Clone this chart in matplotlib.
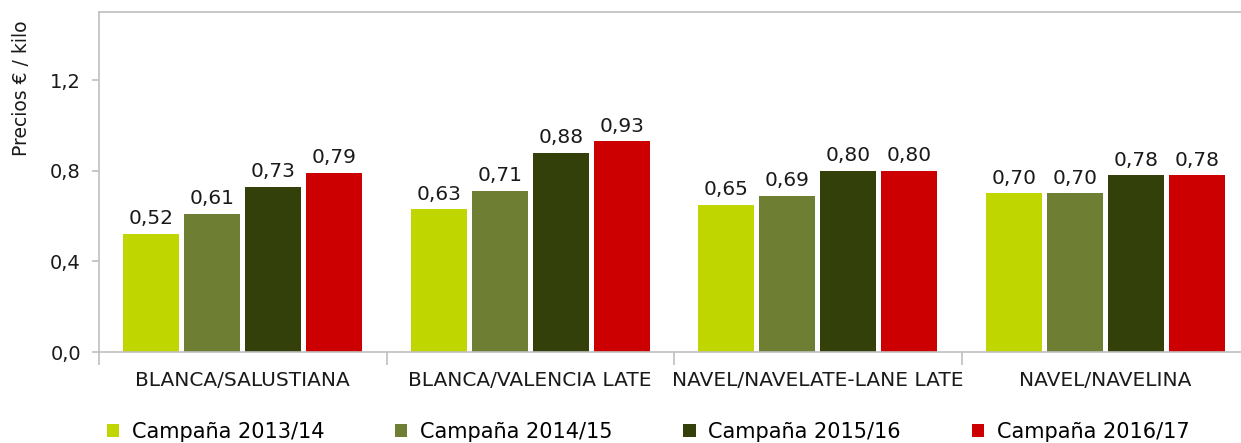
import numpy as np
import matplotlib.pyplot as plt
from matplotlib.ticker import FuncFormatter

categories = ["BLANCA/SALUSTIANA", "BLANCA/VALENCIA LATE",
              "NAVEL/NAVELATE-LANE LATE", "NAVEL/NAVELINA"]
series = ["Campaña 2013/14", "Campaña 2014/15", "Campaña 2015/16", "Campaña 2016/17"]
values = [
    [0.52, 0.63, 0.65, 0.70],
    [0.61, 0.71, 0.69, 0.70],
    [0.73, 0.88, 0.80, 0.78],
    [0.79, 0.93, 0.80, 0.78],
]
colors = ["#bfd600", "#6e7e32", "#334009", "#cc0000"]

plt.rcParams["font.family"] = ["DejaVu Sans"]
grey = "#bfbfbf"
dark = "#1a1a1a"

fig = plt.figure(figsize=(12.41, 4.43), dpi=100)
ax = fig.add_axes([99 / 1241, 1 - 352 / 443, 1150 / 1241, 340 / 443])

x = np.arange(len(categories))
pitch = 0.212
width = 0.195
for i, (name, vals) in enumerate(zip(series, values)):
    pos = x + (i - 1.5) * pitch
    bars = ax.bar(pos, vals, width, color=colors[i], label=name)
    for b, v in zip(bars, vals):
        ax.text(b.get_x() + b.get_width() / 2, v + 0.025, f"{v:.2f}".replace(".", ","),
                ha="center", va="bottom", fontsize=14.5, color=dark)

ax.set_xlim(-0.5, len(categories) - 0.5)
ax.set_ylim(0, 1.5)
ax.set_yticks([0, 0.4, 0.8, 1.2])
ax.yaxis.set_major_formatter(FuncFormatter(lambda v, p: f"{v:.1f}".replace(".", ",")))
ax.set_xticks(x)
ax.set_xticklabels(categories)
ax.set_xticks(np.arange(-0.5, len(categories)), minor=True)
ax.tick_params(axis="x", which="major", length=0, pad=14, labelsize=14.5, colors=dark)
ax.tick_params(axis="x", which="minor", length=9, color=grey, width=1.2)
ax.tick_params(axis="y", length=5, pad=8, color=grey, width=1.2, labelsize=14, colors=dark)
ax.set_ylabel("Precios € / kilo", fontsize=13.5, color=dark, labelpad=14)
ax.yaxis.label.set_position((0, 0.775))

for s in ["left", "bottom", "top", "right"]:
    ax.spines[s].set_color(grey)
    ax.spines[s].set_linewidth(1.2)

fig.legend(loc="lower left", bbox_to_anchor=(88 / 1241, -0.04), ncol=4,
           frameon=False, fontsize=15, handlelength=0.58, handleheight=0.58,
           handletextpad=0.62, columnspacing=3.4)

fig.savefig("out.png", dpi=100)
